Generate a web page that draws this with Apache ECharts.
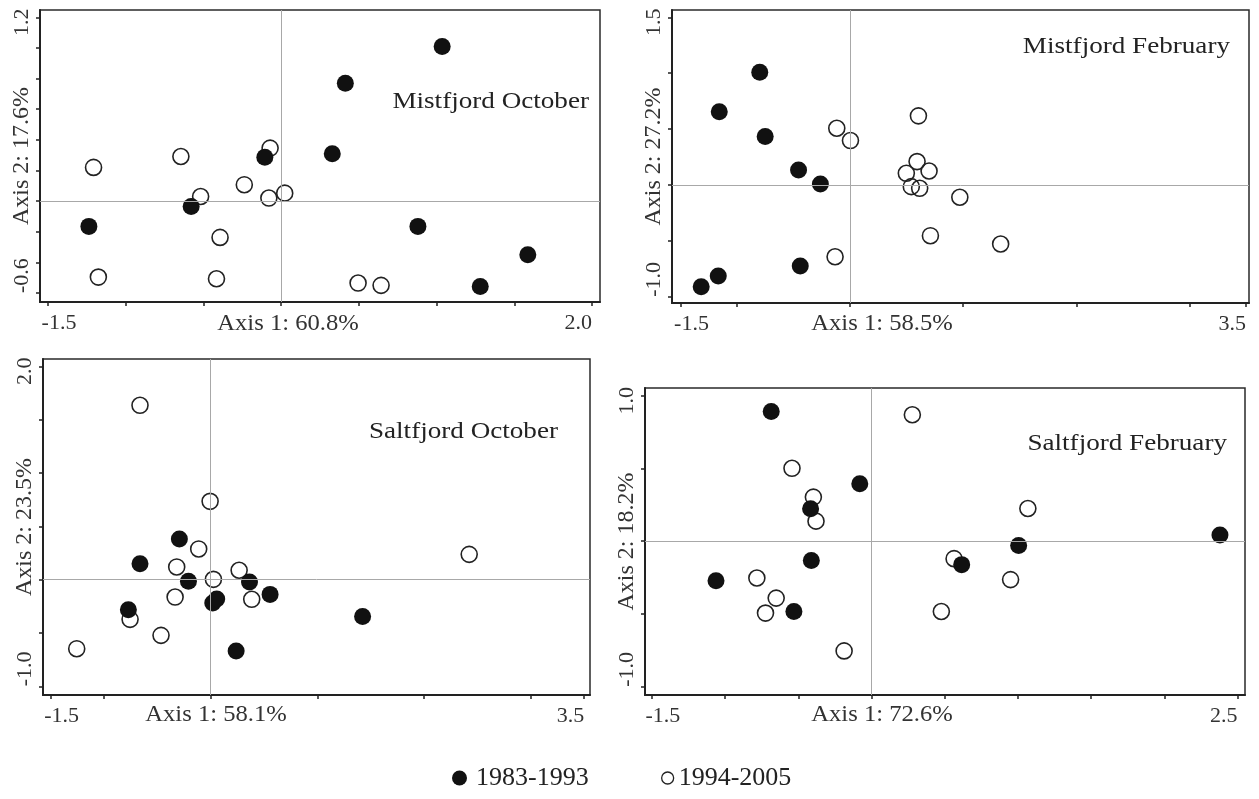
<!DOCTYPE html>
<html><head><meta charset="utf-8">
<script src="https://cdn.jsdelivr.net/npm/echarts@6/dist/echarts.min.js"></script>
<style>html,body{margin:0;padding:0;background:#fff}#c{width:1259px;height:799px}</style>
</head><body><div id="c"></div>
<script>
// ---------- data ----------
const seriesNames = ['1983-1993', '1994-2005'];
const panelTitles = ['Mistfjord October', 'Mistfjord February', 'Saltfjord October', 'Saltfjord February'];
const xAxisNames = ['Axis 1: 60.8%', 'Axis 1: 58.5%', 'Axis 1: 58.1%', 'Axis 1: 72.6%'];
const yAxisNames = ['Axis 2: 17.6%', 'Axis 2: 27.2%', 'Axis 2: 23.5%', 'Axis 2: 18.2%'];

const xTicks = [
  [-1.5, -1, -0.5, 0, 0.5, 1, 1.5, 2],
  [-1.5, -1, 0, 1, 2, 3, 3.5],
  [-1.5, -1, 0, 1, 2, 3, 3.5],
  [-1.5, -1, -0.5, 0, 0.5, 1, 1.5, 2, 2.5]
];
const xTickLabels = [[-1.5, 2.0], [-1.5, 3.5], [-1.5, 3.5], [-1.5, 2.5]];
const yTicks = [
  [-0.6, -0.4, -0.2, 0, 0.2, 0.4, 0.6, 0.8, 1.0, 1.2],
  [-1, -0.5, 0, 0.5, 1, 1.5],
  [-1, -0.5, 0, 0.5, 1, 1.5, 2],
  [-1, -0.5, 0, 0.5, 1]
];
const yTickLabels = [[-0.6, 1.2], [-1.0, 1.5], [-1.0, 2.0], [-1.0, 1.0]];

const mistOct8393 = [[1.036,1.009],[0.413,0.770],[0.329,0.309],[-0.105,0.287],[-0.579,-0.035],[-1.237,-0.165],[0.880,-0.165],[1.587,-0.350],[1.281,-0.557]];
const mistOct9405 = [[-1.207,0.220],[-0.645,0.291],[-0.071,0.346],[-0.237,0.107],[-0.518,0.030],[-0.079,0.020],[0.023,0.052],[-0.393,-0.237],[-1.176,-0.496],[-0.416,-0.507],[0.495,-0.535],[0.643,-0.550]];
const mistFeb8393 = [[-0.799,1.009],[-1.157,0.654],[-0.751,0.433],[-0.456,0.134],[-0.263,0.009],[-0.441,-0.725],[-1.166,-0.815],[-1.317,-0.910]];
const mistFeb9405 = [[-0.118,0.507],[0.003,0.397],[0.604,0.618],[0.592,0.209],[0.698,0.125],[0.497,0.104],[0.541,-0.015],[0.615,-0.030],[0.970,-0.110],[0.710,-0.454],[1.331,-0.528],[-0.133,-0.642]];
const saltOct8393 = [[-0.294,0.381],[-0.663,0.150],[-0.209,-0.016],[0.363,-0.022],[0.556,-0.138],[0.019,-0.219],[0.056,-0.181],[-0.772,-0.281],[0.238,-0.669],[1.423,-0.346]];
const saltOct9405 = [[-0.006,0.734],[-0.113,0.288],[-0.319,0.119],[0.025,0.003],[0.266,0.088],[-0.334,-0.163],[0.384,-0.184],[-0.756,-0.372],[-0.466,-0.522],[-1.256,-0.647],[-0.663,1.634],[2.422,0.237]];
const saltFeb8393 = [[-0.685,0.892],[-0.080,0.395],[-0.416,0.223],[-0.411,-0.133],[-1.062,-0.271],[-0.530,-0.483],[0.616,-0.161],[1.005,-0.030],[2.38,0.043]];
const saltFeb9405 = [[0.279,0.869],[-0.543,0.501],[-0.397,0.303],[-0.379,0.138],[1.068,0.225],[0.564,-0.120],[0.950,-0.264],[-0.783,-0.253],[-0.651,-0.391],[-0.724,-0.494],[0.477,-0.483],[-0.187,-0.754]];

const filledData = [mistOct8393, mistFeb8393, saltOct8393, saltFeb8393];
const openData = [mistOct9405, mistFeb9405, saltOct9405, saltFeb9405];

// ---------- layout ----------
const FONT = '"Liberation Serif", "Times New Roman", serif';
const layout = [
  {left: 40, top: 10, width: 560, height: 292, xr: [-1.5515, 2.0515], yr: [-0.6587, 1.2476], title: [589, 102], xname: [288, 324]},
  {left: 672, top: 10, width: 577, height: 293, xr: [-1.575, 3.527], yr: [-1.056, 1.565], title: [1230, 47], xname: [882, 324]},
  {left: 43, top: 359, width: 547, height: 336, xr: [-1.572, 3.554], yr: [-1.081, 2.068], title: [558, 432], xname: [216, 715]},
  {left: 645, top: 388, width: 600, height: 307, xr: [-1.547, 2.551], yr: [-1.057, 1.053], title: [1227, 444], xname: [882, 715]}
];

const grids = [], xAxes = [], yAxes = [], series = [], graphics = [];
layout.forEach((L, i) => {
  grids.push({left: L.left, top: L.top, width: L.width, height: L.height, show: true,
    borderColor: '#2a2a2a', borderWidth: 1.5, backgroundColor: 'rgba(0,0,0,0)',
    containLabel: false, outerBoundsMode: 'none'});
  xAxes.push({type: 'value', gridIndex: i, min: L.xr[0], max: L.xr[1],
    axisLine: {show: true, onZero: false, lineStyle: {color: '#222', width: 2}},
    axisTick: {show: true, customValues: xTicks[i], length: 4, lineStyle: {color: '#222', width: 1.5}},
    axisLabel: {show: true, customValues: xTickLabels[i], formatter: v => v.toFixed(1), margin: 10,
      fontFamily: FONT, fontSize: 22, color: '#333', padding: [0, 0, 0, 22],
      alignMinLabel: 'center', alignMaxLabel: 'right'},
    splitLine: {show: false}});
  yAxes.push({type: 'value', gridIndex: i, min: L.yr[0], max: L.yr[1],
    name: yAxisNames[i], nameLocation: 'middle', nameGap: 6, nameMoveOverlap: false,
    nameTextStyle: {fontFamily: FONT, fontSize: 24, color: '#333'},
    axisLine: {show: true, onZero: false, lineStyle: {color: '#222', width: 2}},
    axisTick: {show: true, customValues: yTicks[i], length: 4, lineStyle: {color: '#222', width: 1.5}},
    axisLabel: {show: true, customValues: yTickLabels[i], formatter: v => v.toFixed(1), margin: 7, rotate: 90,
      fontFamily: FONT, fontSize: 22, color: '#333', padding: [0, 10, 0, 0],
      alignMinLabel: 'left', alignMaxLabel: 'center'},
    splitLine: {show: false}});
  series.push({type: 'scatter', name: seriesNames[1], xAxisIndex: i, yAxisIndex: i, data: openData[i],
    symbol: 'circle', symbolSize: 16, silent: true, z: 2,
    itemStyle: {color: 'rgba(255,255,255,0)', borderColor: '#222', borderWidth: 1.6, opacity: 1},
    emphasis: {disabled: true},
    markLine: {silent: true, symbol: ['none', 'none'], label: {show: false}, animation: false,
      lineStyle: {color: '#a8a8a8', width: 1, type: 'solid'}, emphasis: {disabled: true},
      data: [{xAxis: 0}, {yAxis: 0}]}});
  series.push({type: 'scatter', name: seriesNames[0], xAxisIndex: i, yAxisIndex: i, data: filledData[i],
    symbol: 'circle', symbolSize: 17, silent: true, z: 3,
    itemStyle: {color: '#111', opacity: 1}, emphasis: {disabled: true}});
  graphics.push({type: 'text', x: L.title[0], y: L.title[1], scaleX: 1.13, silent: true,
    style: {text: panelTitles[i], font: '24px ' + FONT, fill: '#222', textAlign: 'right', textVerticalAlign: 'middle'}});
  graphics.push({type: 'text', x: L.xname[0], y: L.xname[1], scaleX: 1.07, silent: true,
    style: {text: xAxisNames[i], font: '23px ' + FONT, fill: '#333', textAlign: 'center', textVerticalAlign: 'middle'}});
});

const chart = echarts.init(document.getElementById('c'), null, {renderer: 'canvas'});
chart.setOption({
  animation: false,
  backgroundColor: '#fff',
  grid: grids, xAxis: xAxes, yAxis: yAxes, series: series, graphic: graphics,
  legend: [
    {data: [seriesNames[0]], left: 452, top: 765, padding: 0, itemWidth: 15, itemHeight: 15, icon: 'circle',
      selectedMode: false, textStyle: {fontFamily: FONT, fontSize: 26, color: '#222', padding: [0, 0, 0, 4]}},
    {data: [{name: seriesNames[1], itemStyle: {color: 'rgba(0,0,0,0)', borderColor: '#222', borderWidth: 1.3}}],
      left: 661, top: 765, padding: 0, itemWidth: 12, itemHeight: 12, icon: 'circle',
      selectedMode: false, textStyle: {fontFamily: FONT, fontSize: 26, color: '#222'}}
  ]
});
</script></body></html>
